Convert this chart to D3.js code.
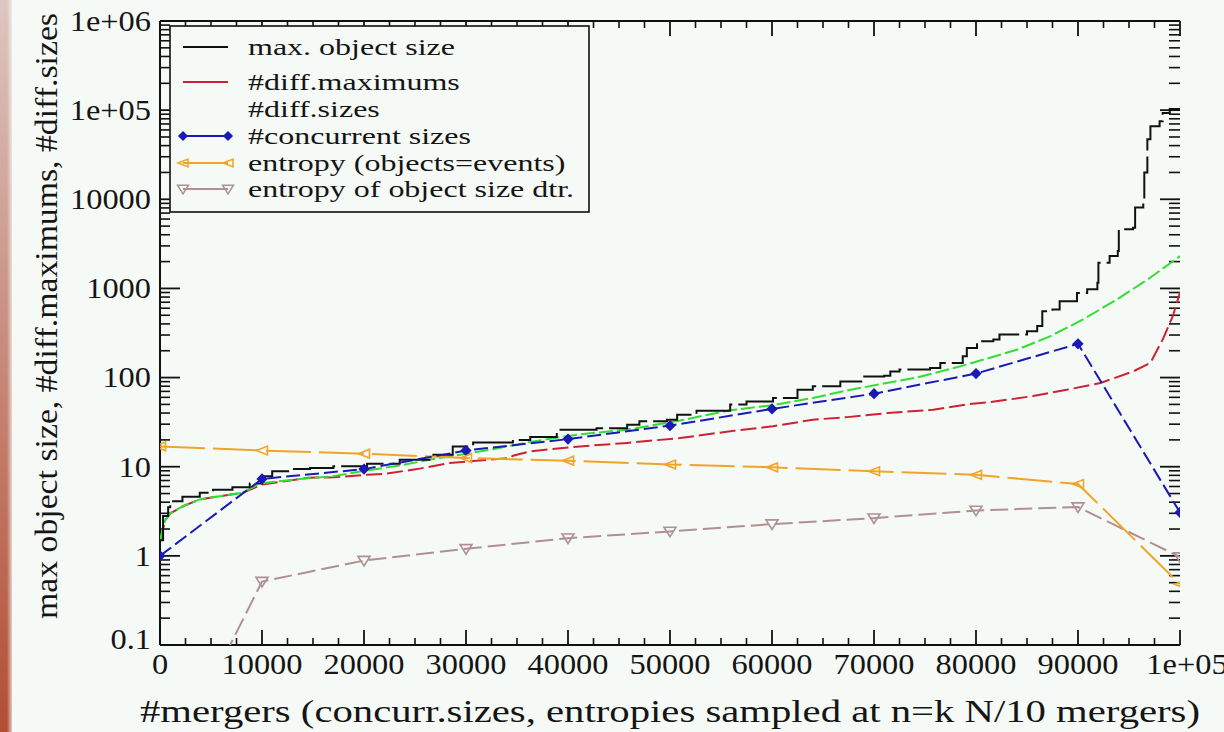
<!DOCTYPE html>
<html><head><meta charset="utf-8">
<script src="https://cdn.jsdelivr.net/npm/d3@7"></script>
<style>
html,body{margin:0;padding:0;background:#f5faf7;}
svg{display:block;}
text{fill:#151515;}
</style></head><body>
<script>
// ---------- data ----------
const xTickValues = [0,10000,20000,30000,40000,50000,60000,70000,80000,90000,100000];
const xTickLabels = ["0","10000","20000","30000","40000","50000","60000","70000","80000","90000","1e+05"];
const yTickValues = [0.1,1,10,100,1000,10000,100000,1000000];
const yTickLabels = ["0.1","1","10","100","1000","10000","1e+05","1e+06"];

// max. object size (step curve): [mergers, size]
const maxSize = [[0,1.5],[300,2.8],[800,3.5],[1000,4.1],[2200,4.6],[3900,5.1],[5200,5.5],[7100,5.9],[8800,6.5],[10000,7.8],[11000,8.9],[12700,9.4],[14700,9.7],[17000,10.1],[20300,10.8],[23500,12],[26800,13.6],[28700,16.9],[30700,18.7],[34600,20],[36300,21.6],[38900,26],[42800,27],[45800,29.6],[47000,32.3],[49700,33.7],[50700,38.4],[52600,42.5],[55900,49.9],[57500,54],[60100,58.9],[62500,73],[64000,79.7],[66700,90.6],[68900,103],[71000,105],[71600,117],[72500,123],[75500,128],[76500,146],[78700,174],[79100,215],[80100,255],[81700,267],[82300,305],[85000,331],[86000,378],[86500,555],[87500,580],[88200,717],[89900,888],[90900,976],[91900,1160],[92000,1940],[93100,2310],[93900,2630],[94000,4600],[95400,4800],[95600,8100],[96400,9100],[96500,20000],[96800,47000],[97100,66000],[98000,75000],[98300,93000],[99000,103000],[100000,103000]];
// #diff.maximums
const diffMax = [[0,1.5],[500,2.5],[1000,3.0],[2250,3.6],[3900,4.3],[5500,4.6],[8100,5.1],[10000,6.3],[12000,6.8],[14500,7.5],[17000,7.6],[20300,8.1],[21900,8.3],[25200,9.4],[28400,11],[34300,12.5],[34600,13.3],[36300,14.9],[41200,16.9],[45800,18.5],[51000,21],[55900,25],[60100,28.4],[64000,33.7],[67400,36],[71300,40],[75800,43.6],[79100,50],[81400,53],[85600,62],[88900,73],[92200,87],[95400,117],[97100,146],[98300,267],[99300,490],[100000,900]];
// #diff.sizes
const diffSizes = [[0,1.5],[500,2.5],[1000,3.0],[2250,3.6],[3900,4.3],[5500,4.6],[8100,5.1],[9800,6.5],[11400,6.8],[13700,7.3],[16900,7.8],[20300,9.1],[23500,10.3],[26800,12.2],[30100,14],[33000,16],[36300,19],[41000,23],[45800,26],[51000,33],[55900,43],[60100,49],[64000,59],[67700,73],[74200,100],[79100,140],[84000,205],[87250,290],[90500,450],[93800,750],[97000,1300],[100000,2300]];
// sampled at n = k N/10
const sampleX = [0,10000,20000,30000,40000,50000,60000,70000,80000,90000,100000];
const concurrentSizes = [1,7.3,9.4,15.2,20.4,28.9,44.5,66,111,239,3.07];
const entropyEvents = [16.9,15.2,14,12.5,11.7,10.6,9.85,8.9,8.1,6.4,0.48];
const entropySizeDtr = [0.0027,0.515,0.886,1.2,1.58,1.88,2.27,2.65,3.23,3.53,0.97];

const legendLabels = ["max. object size","#diff.maximums","#diff.sizes","#concurrent sizes","entropy (objects=events)","entropy of  object size dtr."];

// ---------- layout ----------
const W = 1224, H = 732;
const m = {left:160, right:1180, top:21, bottom:645};
const BG = "#f5faf7";

const svg = d3.select("body").append("svg").attr("width",W).attr("height",H);
const defs = svg.append("defs");
const grad = defs.append("linearGradient").attr("id","strip").attr("x1",0).attr("y1",0).attr("x2",0).attr("y2",1);
grad.append("stop").attr("offset","0%").attr("stop-color","#ddc6c2");
grad.append("stop").attr("offset","45%").attr("stop-color","#c98e80");
grad.append("stop").attr("offset","100%").attr("stop-color","#b24e34");
const gradH = defs.append("linearGradient").attr("id","fade").attr("x1",0).attr("y1",0).attr("x2",1).attr("y2",0);
gradH.append("stop").attr("offset","0%").attr("stop-color",BG).attr("stop-opacity",0);
gradH.append("stop").attr("offset","100%").attr("stop-color",BG).attr("stop-opacity",1);
defs.append("clipPath").attr("id","plotclip").append("rect")
  .attr("x",m.left).attr("y",m.top).attr("width",m.right-m.left).attr("height",m.bottom-m.top);

svg.append("rect").attr("width",W).attr("height",H).attr("fill",BG);
svg.append("rect").attr("x",0).attr("y",0).attr("width",12).attr("height",H).attr("fill","url(#strip)");
svg.append("rect").attr("x",7).attr("y",0).attr("width",7).attr("height",H).attr("fill","url(#fade)");

const x = d3.scaleLinear().domain([0,100000]).range([m.left,m.right]);
const y = d3.scaleLog().domain([0.1,1e6]).range([m.bottom,m.top]);

function serif(sel){ return sel.attr("font-family","Liberation Serif"); }
// scale the glyphs horizontally so that a reference string gets a target width
function fitFactor(sample, size, target){
  const t = serif(svg.append("text")).attr("font-size",size).text(sample);
  const f = target / t.node().getComputedTextLength();
  t.remove();
  return f;
}
function stretchText(sel, f){
  sel.each(function(){
    const n = this.getComputedTextLength();
    d3.select(this).attr("textLength", n*f).attr("lengthAdjust","spacingAndGlyphs");
  });
}

// ---------- axes ----------
const ax = svg.append("g").attr("stroke","#111").attr("fill","none");
ax.append("line").attr("x1",m.left).attr("x2",m.left).attr("y1",m.top).attr("y2",m.bottom).attr("stroke-width",2);
ax.append("line").attr("x1",m.left).attr("x2",m.right).attr("y1",m.bottom).attr("y2",m.bottom).attr("stroke-width",2);
ax.append("line").attr("x1",m.left).attr("x2",m.right).attr("y1",m.top).attr("y2",m.top).attr("stroke-width",2);

const xMinor = d3.range(0,100001,2500).filter(v=>v%10000!==0);
xTickValues.forEach(v=>{
  ax.append("line").attr("x1",x(v)).attr("x2",x(v)).attr("y1",m.bottom).attr("y2",m.bottom-15).attr("stroke-width",1.8);
  ax.append("line").attr("x1",x(v)).attr("x2",x(v)).attr("y1",m.top).attr("y2",m.top+15).attr("stroke-width",1.8);
});
xMinor.forEach(v=>{
  ax.append("line").attr("x1",x(v)).attr("x2",x(v)).attr("y1",m.bottom).attr("y2",m.bottom-7).attr("stroke-width",1.6);
  ax.append("line").attr("x1",x(v)).attr("x2",x(v)).attr("y1",m.top).attr("y2",m.top+7).attr("stroke-width",1.6);
});
const yMinor = [];
yTickValues.slice(0,-1).forEach(d=>{ for(let k=2;k<=9;k++) yMinor.push(d*k); });
yTickValues.forEach(v=>{
  ax.append("line").attr("x1",m.left).attr("x2",m.left+20).attr("y1",y(v)).attr("y2",y(v)).attr("stroke-width",1.8);
  ax.append("line").attr("x1",m.right).attr("x2",m.right-20).attr("y1",y(v)).attr("y2",y(v)).attr("stroke-width",1.8);
});
yMinor.forEach(v=>{
  ax.append("line").attr("x1",m.left).attr("x2",m.left+10).attr("y1",y(v)).attr("y2",y(v)).attr("stroke-width",1.6);
  ax.append("line").attr("x1",m.right).attr("x2",m.right-11).attr("y1",y(v)).attr("y2",y(v)).attr("stroke-width",1.6);
});

// tick labels
const TICK_FS = 29;
const tickF = fitFactor("10000", TICK_FS, 81);
const xl = serif(svg.append("g").selectAll("text").data(xTickValues).join("text"))
  .attr("x",d=>x(d)).attr("y",674).attr("text-anchor","middle").attr("font-size",TICK_FS)
  .text((d,i)=>xTickLabels[i]);
stretchText(xl, tickF);
xl.filter((d,i)=>i===xTickValues.length-1).attr("x",x(100000)+7);
const yl = serif(svg.append("g").selectAll("text").data(yTickValues).join("text"))
  .attr("x",151).attr("y",d=>y(d)).attr("dy","0.34em").attr("text-anchor","end").attr("font-size",TICK_FS)
  .text((d,i)=>yTickLabels[i]);
stretchText(yl, tickF);
yl.filter(d=>d===0.1).attr("y",y(0.1)-6);

// axis titles
const xt = serif(svg.append("text")).attr("x",670).attr("y",722).attr("text-anchor","middle").attr("font-size",32)
  .text("#mergers (concurr.sizes, entropies sampled at n=k N/10 mergers)");
xt.attr("textLength",1060).attr("lengthAdjust","spacingAndGlyphs");
const yt = serif(svg.append("text")).attr("transform","translate(57,316) rotate(-90)").attr("text-anchor","middle").attr("font-size",32)
  .text("max object size, #diff.maximums, #diff.sizes");
yt.attr("textLength",606).attr("lengthAdjust","spacingAndGlyphs");

// ---------- series ----------
const plot = svg.append("g").attr("clip-path","url(#plotclip)");
const lineStep = d3.line().x(d=>x(d[0])).y(d=>y(d[1])).curve(d3.curveStepAfter);
const lineLin = d3.line().x(d=>x(d[0])).y(d=>y(d[1]));

const C = {black:"#111111", red:"#cc2233", green:"#33dd33", blue:"#1a1ab4", orange:"#f0a428", brown:"#b09090"};

plot.append("path").datum(diffMax).attr("d",lineLin).attr("fill","none").attr("stroke",C.red).attr("stroke-width",2).attr("stroke-dasharray","16,5");
plot.append("path").datum(diffSizes).attr("d",lineLin).attr("fill","none").attr("stroke",C.green).attr("stroke-width",2).attr("stroke-dasharray","14,4");
plot.append("path").datum(maxSize).attr("d",lineStep).attr("fill","none").attr("stroke",C.black).attr("stroke-width",2).attr("stroke-dasharray","45,6");

const pairs = arr => sampleX.map((v,i)=>[v,arr[i]]);
const conc = pairs(concurrentSizes), entE = pairs(entropyEvents), entS = pairs(entropySizeDtr);
plot.append("path").datum(entS).attr("d",lineLin).attr("fill","none").attr("stroke",C.brown).attr("stroke-width",2).attr("stroke-dasharray","18,6");
plot.append("path").datum(entE).attr("d",lineLin).attr("fill","none").attr("stroke",C.orange).attr("stroke-width",2).attr("stroke-dasharray","45,8");
plot.append("path").datum(conc).attr("d",lineLin).attr("fill","none").attr("stroke",C.blue).attr("stroke-width",2).attr("stroke-dasharray","14,5");

const diamond = (s)=>`M0,${-s}L${s},0L0,${s}L${-s},0Z`;
const triLeft = (s)=>`M${-s},0L${s},${-s*0.8}L${s},${s*0.8}Z`;
const triDown = (s)=>`M${-s},${-s*0.7}L${s},${-s*0.7}L0,${s*0.9}Z`;
function markers(data, path, color, filled){
  plot.append("g").selectAll("path").data(data.filter(d=>d[1]>=0.1)).join("path")
    .attr("transform",d=>`translate(${x(d[0])},${y(d[1])})`).attr("d",path)
    .attr("fill",filled?color:"none").attr("stroke",color).attr("stroke-width",1.6);
}
markers(conc, diamond(4.5), C.blue, true);
markers(entE, triLeft(5.5), C.orange, false);
markers(entS, triDown(6), C.brown, false);

// ---------- legend ----------
const lg = svg.append("g");
lg.append("rect").attr("x",170).attr("y",26).attr("width",419).attr("height",186)
  .attr("fill",BG).attr("stroke","#111").attr("stroke-width",1.6);
const rowsY = [47,82,109,136,163,189];
const lgStyle = [
  {c:C.black, m:null},{c:C.red, m:null},{c:null, m:null},
  {c:C.blue, m:diamond(4), f:true},{c:C.orange, m:triLeft(5), f:false},{c:C.brown, m:triDown(5.5), f:false}
];
const LG_FS = 24;
const lgF = fitFactor("max. object size", LG_FS, 207);
legendLabels.forEach((lab,i)=>{
  const st = lgStyle[i];
  if(st.c){
    lg.append("line").attr("x1",183).attr("x2",228).attr("y1",rowsY[i]).attr("y2",rowsY[i]).attr("stroke",st.c).attr("stroke-width",2);
    if(st.m){
      [183,228].forEach(px=>lg.append("path").attr("transform",`translate(${px},${rowsY[i]})`).attr("d",st.m)
        .attr("fill",st.f?st.c:"none").attr("stroke",st.c).attr("stroke-width",1.5));
    }
  }
  const t = serif(lg.append("text")).attr("x",248).attr("y",rowsY[i]).attr("dy","0.33em").attr("font-size",LG_FS).text(lab);
  stretchText(t, lgF);
});
</script>
</body></html>
